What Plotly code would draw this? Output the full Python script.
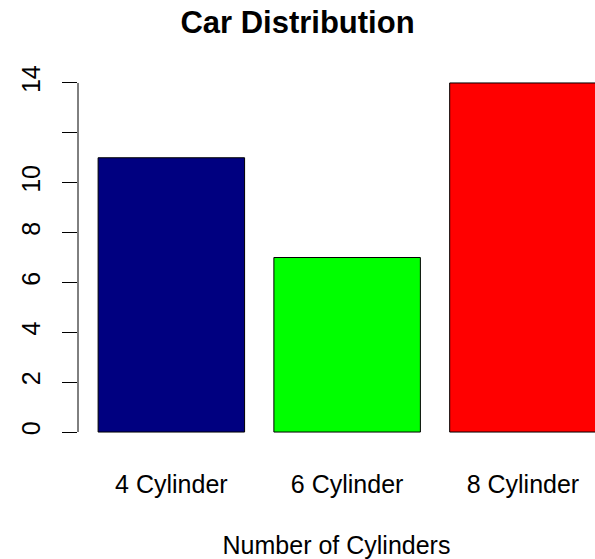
import plotly.graph_objects as go

# data
categories = ["4 Cylinder", "6 Cylinder", "8 Cylinder"]
counts = [11, 7, 14]
bar_colors = ["#000080", "#00FF00", "#FF0000"]
y_tickvals = [0, 2, 4, 6, 8, 10, 12, 14]
y_ticktext = ["0", "2", "4", "6", "8", "10", "", "14"]

font_family = "Liberation Sans, Arial, sans-serif"

fig = go.Figure()

fig.add_trace(
    go.Bar(x=categories, y=counts,
           marker=dict(color=bar_colors, line=dict(color="black", width=1)),
           hoverinfo="x+y"))

# y axis line only from 0 to the max tick, like base R
fig.add_shape(type="line", xref="paper", yref="y", x0=0, x1=0,
              y0=y_tickvals[0], y1=y_tickvals[-1],
              line=dict(color="black", width=1))

fig.update_layout(
    width=595, height=559, autosize=False,
    paper_bgcolor="white", plot_bgcolor="white",
    margin=dict(l=78, r=0, t=69, b=113, pad=0),
    bargap=0.1667,
    showlegend=False,
    font=dict(family=font_family, size=25, color="black"),
    title=dict(text="<b>Car Distribution</b>", x=0.5, xanchor="center",
               y=1 - 22 / 559, yanchor="middle", yref="container",
               font=dict(size=31, color="black")),
    xaxis=dict(range=[-0.531, 2.41], showgrid=False, zeroline=False, showline=False,
               ticks="", ticklabelstandoff=21,
               title=dict(text="Number of Cylinders", standoff=39,
                          font=dict(size=25, color="black"))),
    yaxis=dict(range=[-0.56, 14.56], showgrid=False, zeroline=False, showline=False,
               tickvals=y_tickvals, ticktext=y_ticktext, tickangle=-90,
               ticks="outside", ticklen=15, tickwidth=1, tickcolor="black",
               ticklabelstandoff=12),
)

# page without the default body margin so the figure fills the window
fig.write_html("out.html", config={"displayModeBar": False},
               post_script="document.body.style.margin = '0';")
